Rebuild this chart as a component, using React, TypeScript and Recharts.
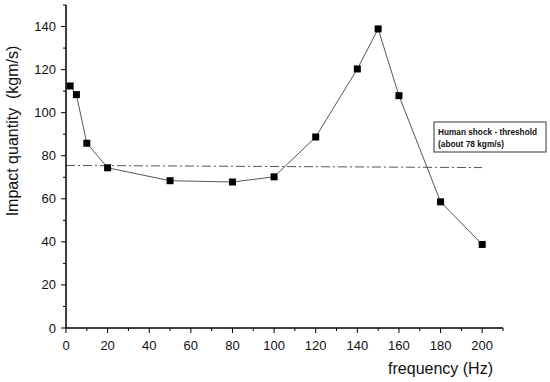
import { Line, LineChart, XAxis, YAxis } from "recharts";

const freqHz = [2, 5, 10, 20, 50, 80, 100, 120, 140, 150, 160, 180, 200];
const impact = [112.4, 108.4, 85.8, 74.4, 68.4, 67.8, 70.2, 88.7, 120.3, 138.9, 107.9, 58.6, 38.8];
const thresholdFreq = [0, 200];
const thresholdValue = [75.5, 74.5];
const xTicks = [0, 10, 20, 30, 40, 50, 60, 70, 80, 90, 100, 110, 120, 130, 140, 150, 160, 170, 180, 190, 200, 210];
const yTicks = [0, 10, 20, 30, 40, 50, 60, 70, 80, 90, 100, 110, 120, 130, 140, 150];
const noteLines = ["Human shock - threshold", "(about 78 kgm/s)"];

const data = freqHz.map((f, i) => ({ f, v: impact[i] }));
const thresholdData = thresholdFreq.map((f, i) => ({ f, t: thresholdValue[i] }));

const FONT = "Arial, 'Liberation Sans', sans-serif";

const XTick = (props: any) => {
  const { x, y, payload } = props;
  const major = payload.value % 20 === 0 && payload.value <= 200;
  return (
    <g>
      <line x1={x} y1={y} x2={x} y2={y + (major ? 5 : 3)} stroke="#000" strokeWidth={1} />
      {major && (
        <text x={x} y={y + 22} textAnchor="middle" fontSize={13} fontFamily={FONT} fill="#111">
          {payload.value}
        </text>
      )}
    </g>
  );
};

const YTick = (props: any) => {
  const { x, y, payload } = props;
  const major = payload.value % 20 === 0;
  return (
    <g>
      <line x1={x} y1={y} x2={x - (major ? 5 : 3)} y2={y} stroke="#000" strokeWidth={1} />
      {major && (
        <text x={x - 10} y={y + 4.5} textAnchor="end" fontSize={13} fontFamily={FONT} fill="#111">
          {payload.value}
        </text>
      )}
    </g>
  );
};

const SquareDot = (props: any) => {
  const { cx, cy, index } = props;
  return <rect key={index} x={cx - 3.5} y={cy - 3.5} width={7} height={7} fill="#000" />;
};

export default function App() {
  return (
    <div style={{ position: "absolute", left: 0, top: 0, width: 550, height: 382, background: "#fff" }}>
      <LineChart width={550} height={382} data={data} margin={{ top: 5, right: 47, bottom: 0, left: 0 }}>
        <XAxis
          dataKey="f"
          type="number"
          domain={[0, 210]}
          ticks={xTicks}
          interval={0}
          tickSize={0}
          tickMargin={0}
          tick={<XTick />}
          axisLine={{ stroke: "#000", strokeWidth: 1.5 }}
          height={54}
          label={{
            value: "frequency (Hz)",
            content: (p: any) => (
              <text
                x={p.viewBox.x + p.viewBox.width - 10}
                y={p.viewBox.y + 46}
                textAnchor="end"
                fontSize={16}
                fontFamily={FONT}
                fill="#111"
              >
                frequency (Hz)
              </text>
            ),
          }}
        />
        <YAxis
          type="number"
          domain={[0, 150]}
          ticks={yTicks}
          interval={0}
          tickSize={0}
          tickMargin={0}
          tick={<YTick />}
          axisLine={{ stroke: "#000", strokeWidth: 1.5 }}
          width={66}
          label={{
            value: "Impact quantity  (kgm/s)",
            content: (p: any) => {
              const cx = 14;
              const cy = p.viewBox.y + 126;
              return (
                <text
                  x={cx}
                  y={cy}
                  transform={`rotate(-90, ${cx}, ${cy})`}
                  textAnchor="middle"
                  dominantBaseline="middle"
                  fontSize={16}
                  fontFamily={FONT}
                  fill="#111"
                >
                  Impact quantity{"\u00a0\u00a0"}(kgm/s)
                </text>
              );
            },
          }}
        />
        <Line
          data={thresholdData}
          dataKey="t"
          type="linear"
          stroke="#555"
          strokeWidth={1}
          strokeDasharray="9 3 2 3"
          dot={false}
          activeDot={false}
          isAnimationActive={false}
        />
        <Line
          dataKey="v"
          type="linear"
          stroke="#555"
          strokeWidth={1}
          dot={<SquareDot />}
          activeDot={false}
          isAnimationActive={false}
        />
      </LineChart>
      <svg
        width={114}
        height={32}
        style={{ position: "absolute", left: 433, top: 121 }}
      >
        <rect x={1} y={1} width={112} height={30} fill="#fff" stroke="#333" strokeWidth={1} />
        <text
          x={5}
          y={14}
          fontSize={9.5}
          fontWeight="bold"
          fontFamily={FONT}
          fill="#111"
          textLength={99}
          lengthAdjust="spacingAndGlyphs"
        >
          {noteLines[0]}
        </text>
        <text
          x={5}
          y={26}
          fontSize={9.5}
          fontWeight="bold"
          fontFamily={FONT}
          fill="#111"
          textLength={66}
          lengthAdjust="spacingAndGlyphs"
        >
          {noteLines[1]}
        </text>
      </svg>
    </div>
  );
}
